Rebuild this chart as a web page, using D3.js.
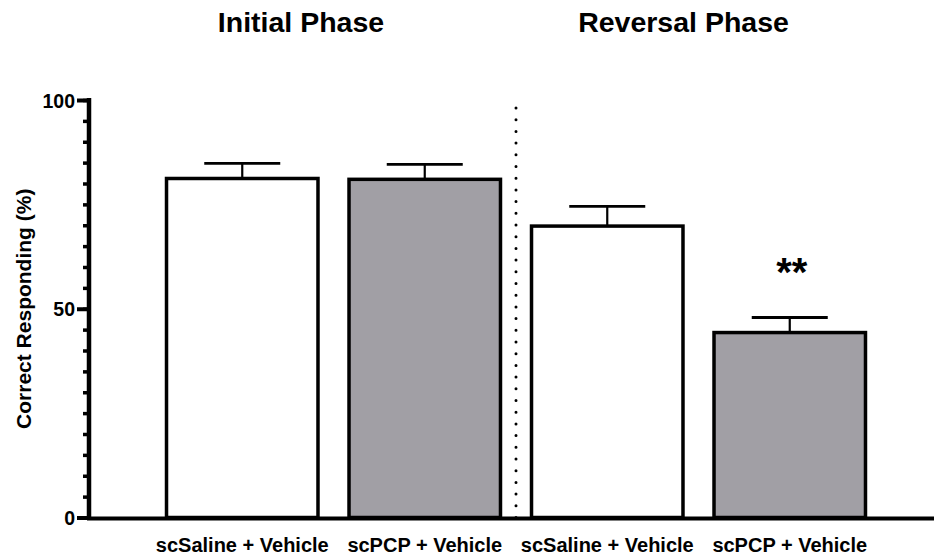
<!DOCTYPE html>
<html><head><meta charset="utf-8">
<script src="https://cdn.jsdelivr.net/npm/d3@7"></script>
<style>body{margin:0;background:#fff}svg{display:block}text{font-family:"Liberation Sans",Arial,sans-serif;font-weight:bold;fill:#000}</style>
</head><body><svg id="c" width="934" height="558"></svg>
<script>
const categories = ["scSaline + Vehicle", "scPCP + Vehicle", "scSaline + Vehicle", "scPCP + Vehicle"];
const means = [81.2, 81.0, 69.8, 44.3];
const sems = [3.6, 3.6, 4.7, 3.6];
const fills = ["#ffffff", "#a19fa5", "#ffffff", "#a19fa5"];
const phases = ["Initial Phase", "Reversal Phase"];
const significance = ["", "", "", "**"];
const yMajorTicks = [0, 50, 100];
const yMinorTicks = d3.range(0, 101, 5);

const svg = d3.select("#c");
const y = d3.scaleLinear().domain([0, 100]).range([517.5, 100]);
const x = d3.scaleBand().domain(d3.range(categories.length)).range([151, 881]).paddingInner(0.17).paddingOuter(0.085);
const axisX = 89;

// bars
svg.selectAll("rect.bar").data(means).join("rect")
  .attr("x", (d, i) => x(i)).attr("width", x.bandwidth())
  .attr("y", d => y(d)).attr("height", d => y(0) - y(d))
  .attr("fill", (d, i) => fills[i]).attr("stroke", "#000").attr("stroke-width", 3.5);

// error bars
const capW = 76;
means.forEach((m, i) => {
  const cx = x(i) + x.bandwidth() / 2;
  svg.append("line").attr("x1", cx).attr("x2", cx).attr("y1", y(m)).attr("y2", y(m + sems[i]))
    .attr("stroke", "#000").attr("stroke-width", 2.2);
  svg.append("line").attr("x1", cx - capW / 2).attr("x2", cx + capW / 2).attr("y1", y(m + sems[i])).attr("y2", y(m + sems[i]))
    .attr("stroke", "#000").attr("stroke-width", 2.8);
  if (significance[i]) {
    svg.append("text").attr("x", cx + 2).attr("y", y(m + sems[i]) - 32).attr("text-anchor", "middle")
      .style("font-size", "40px").text(significance[i]);
  }
});

// dotted divider
const divX = (x(1) + x.bandwidth() + x(2)) / 2;
svg.append("line").attr("x1", divX).attr("x2", divX).attr("y1", y(0)).attr("y2", y(100) + 1)
  .attr("stroke", "#000").attr("stroke-width", 3).attr("stroke-linecap", "round")
  .attr("stroke-dasharray", "0 11.7");

// y axis
const yAxisMinor = d3.axisLeft(y).tickValues(yMinorTicks).tickSize(6).tickFormat("");
svg.append("g").attr("transform", `translate(${axisX},0)`).call(yAxisMinor)
  .call(g => g.select(".domain").remove())
  .call(g => g.selectAll("line").attr("stroke", "#000").attr("stroke-width", 3.5));
const yAxis = d3.axisLeft(y).tickValues(yMajorTicks).tickSize(12).tickPadding(2).tickFormat(d3.format("d"));
svg.append("g").attr("transform", `translate(${axisX},0)`).call(yAxis)
  .call(g => g.select(".domain").remove())
  .call(g => g.selectAll("line").attr("stroke", "#000").attr("stroke-width", 4))
  .call(g => g.selectAll("text").style("font-size", "19.5px").style("font-family", "Liberation Sans, Arial").style("font-weight", "bold").attr("dy", "0.36em"));
svg.append("line").attr("x1", axisX).attr("x2", axisX).attr("y1", y(100) - 2).attr("y2", y(0) + 2)
  .attr("stroke", "#000").attr("stroke-width", 4.5);

// x axis
svg.append("line").attr("x1", axisX - 2).attr("x2", 934).attr("y1", y(0) + 1).attr("y2", y(0) + 1)
  .attr("stroke", "#000").attr("stroke-width", 4);
const xAxis = d3.axisBottom(x).tickSize(0).tickFormat(i => categories[i]);
svg.append("g").attr("transform", `translate(0,${y(0)})`).call(xAxis)
  .call(g => g.select(".domain").remove())
  .call(g => g.selectAll("text").attr("y", 34.5).attr("dy", 0).style("font-size", "20px")
    .style("font-family", "Liberation Sans, Arial").style("font-weight", "bold"));

// y label
svg.append("text").attr("transform", `translate(31,${(y(0) + y(100)) / 2}) rotate(-90)`)
  .attr("text-anchor", "middle").style("font-size", "21px").text("Correct Responding (%)");

// phase titles
const phaseX = [301, 683.5];
svg.selectAll("text.phase").data(phases).join("text").attr("class", "phase")
  .attr("x", (d, i) => phaseX[i]).attr("y", 32).attr("text-anchor", "middle")
  .style("font-size", "28.5px").text(d => d);
</script></body></html>
